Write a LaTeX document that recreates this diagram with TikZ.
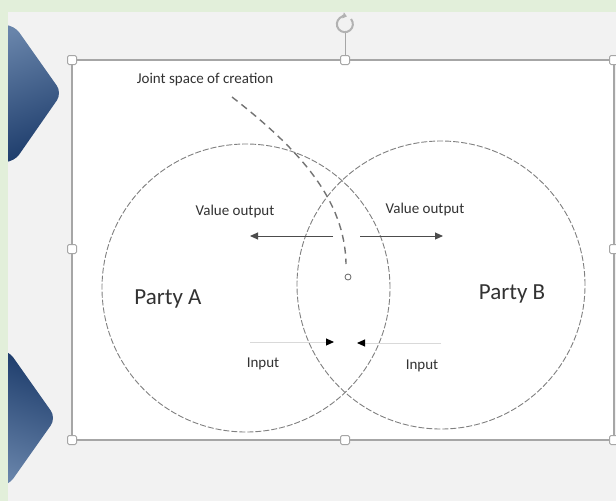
\documentclass[tikz,border=0pt]{standalone}
\usepackage{fontspec}
\setmainfont{Carlito}
\usepackage{tikz}
\usepackage{xcolor}
\usetikzlibrary{arrows.meta, positioning, calc, shapes.geometric}
\definecolor{cFrame}{RGB}{226,239,218}
\definecolor{cPanel}{RGB}{242,242,242}
\definecolor{cNavy}{RGB}{30,61,108}
\definecolor{cSteel}{RGB}{104,132,170}
\definecolor{cText}{RGB}{50,50,50}
\tikzset{
	handle/.style    ={rectangle, draw=black!35, fill=white, line width=1pt, minimum size=9pt, inner sep=0pt, rounded corners=1.5pt},
	partycircle/.style={circle, draw=black!50, dash pattern=on 6pt off 2pt, line width=0.9pt, minimum size=288pt, inner sep=0pt},
	lbl/.style       ={text=cText, inner sep=1pt, font=\fontsize{15}{18}\selectfont},
	biglbl/.style    ={text=cText, inner sep=1pt, font=\fontsize{23}{26}\selectfont},
	outarrow/.style  ={-{Triangle[length=8pt, width=7pt]}, draw=black!70, line width=1pt},
	inarrow/.style   ={-{Triangle[length=8pt, width=7pt, color=black]}, draw=black!15, line width=1pt},
	jointline/.style ={draw=black!55, line width=1.4pt, dash pattern=on 7pt off 5pt},
}
\begin{document}
\begin{tikzpicture}[x=1pt, y=-1pt]
	\useasboundingbox (0,0) rectangle (616,501);
	% slide background
	\fill[cFrame] (0,0) rectangle (616,501);
	\fill[cPanel] (8,12) rectangle (616,501);
	\begin{scope}
		\clip (8,12) rectangle (616,501);
		\shade[top color=cSteel, bottom color=cNavy, shading angle=20, rounded corners=9pt]
			(-20,25) -- (14,25) -- (62,93) -- (14,162) -- (-20,162) -- cycle;
		\shade[top color=cNavy, bottom color=cSteel, shading angle=-20, rounded corners=9pt]
			(-20,350) -- (8,350) -- (56,418) -- (8,486) -- (-20,486) -- cycle;
	\end{scope}
	% picture area and selection frame
	\fill[white] (72,60) rectangle (614,440);
	\draw[black!35, line width=1.5pt] (72,60) rectangle (614,440);
	\draw[black!35, line width=1pt] (345,33) -- (345,56);
	\draw[black!30, line width=2pt, -{Triangle[length=4pt, width=6pt]}] (351,19) arc[start angle=-40, end angle=285, radius=8];
	\foreach \hx/\hy/\n in {72/60/nw, 345/60/n, 614/60/ne, 72/249/w, 614/249/e, 72/440/sw, 345/440/s, 614/440/se}
		\node[handle] (h\n) at (\hx,\hy) {};
	% the two parties
	\node[partycircle] (circA) at (246,288) {};
	\node[partycircle] (circB) at (441,285) {};
	\node[biglbl] (partyA) at (168,299) {Party A};
	\node[biglbl] (partyB) at (512,294) {Party B};
	% value output
	\node[lbl] (outA) at (235,211) {Value output};
	\node[lbl] (outB) at (425,209) {Value output};
	\coordinate (outAs) at (333,236);
	\coordinate (outAe) at (250,236);
	\coordinate (outBs) at (360,236);
	\coordinate (outBe) at (443,236);
	\draw[outarrow] (outAs) -- (outAe);
	\draw[outarrow] (outBs) -- (outBe);
	% input
	\node[lbl] (inA) at (263,364) {Input};
	\node[lbl] (inB) at (422,366) {Input};
	\coordinate (inAs) at (250,342);
	\coordinate (inAe) at (334,342);
	\coordinate (inBs) at (441,343);
	\coordinate (inBe) at (357,343);
	\draw[inarrow] (inAs) -- (inAe);
	\draw[inarrow] (inBs) -- (inBe);
	% joint space
	\node[lbl] (joint) at (205,80) {Joint space of creation};
	\node[circle, draw=black!60, line width=0.8pt, minimum size=6pt, inner sep=0pt] (jointpt) at (348,277) {};
	\coordinate (jointst) at (232,97);
	\draw[jointline] (jointst) .. controls (300,150) and (345,200) .. (346,264);
\end{tikzpicture}
\end{document}
